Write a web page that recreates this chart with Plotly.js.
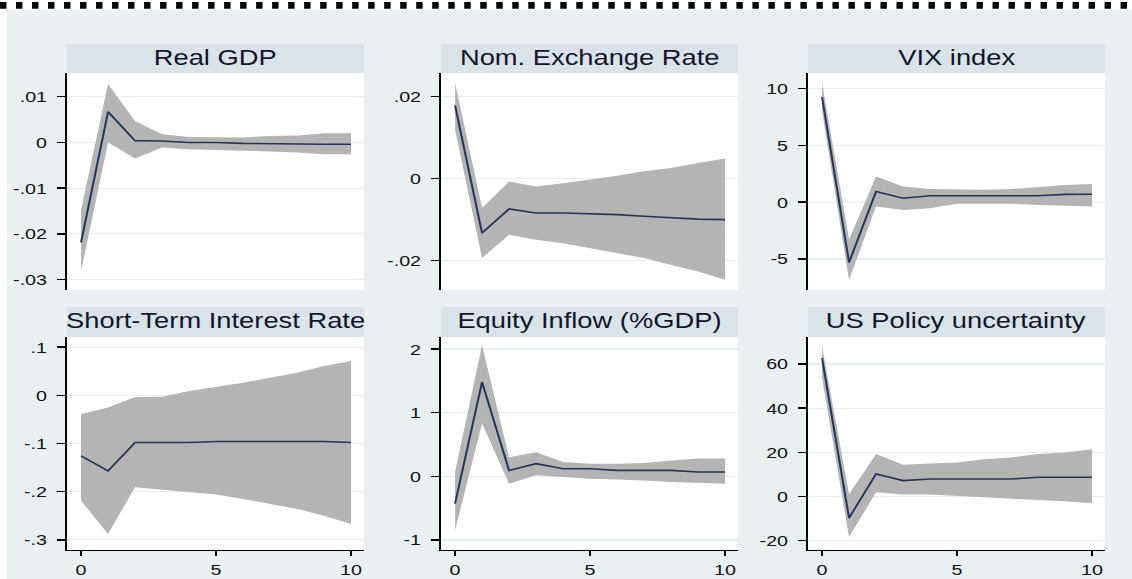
<!DOCTYPE html>
<html>
<head>
<meta charset="utf-8">
<script src="https://cdn.plot.ly/plotly-3.0.1.min.js"></script>
<style>
  html, body { margin: 0; padding: 0; background: #ffffff; overflow: hidden; }
  #wrap { width: 1132px; height: 579px; overflow: hidden; }
  /* the figure is laid out narrow and widened horizontally */
  #chart { transform-origin: 0 0; }
</style>
</head>
<body>
<div id="wrap"><div id="chart"></div></div>
<script>
// Impulse responses over a 10-period horizon with confidence bands
const horizon = [0, 1, 2, 3, 4, 5, 6, 7, 8, 9, 10];

const gdpIrf = [-0.0219, 0.0067, 0.0004, 0.0003, 0.0000, 0.0000, -0.0002, -0.0003, -0.0004, -0.0004, -0.0004];
const gdpLo  = [-0.0282, 0.0000, -0.0035, -0.0011, -0.0015, -0.0016, -0.0018, -0.0020, -0.0022, -0.0026, -0.0026];
const gdpHi  = [-0.0148, 0.0128, 0.0047, 0.0018, 0.0012, 0.0011, 0.0011, 0.0014, 0.0015, 0.0020, 0.0020];

const fxIrf = [0.0179, -0.0133, -0.0074, -0.0084, -0.0084, -0.0086, -0.0088, -0.0092, -0.0096, -0.0099, -0.0100];
const fxLo  = [0.0120, -0.0194, -0.0137, -0.0149, -0.0158, -0.0170, -0.0182, -0.0194, -0.0211, -0.0227, -0.0247];
const fxHi  = [0.0234, -0.0072, -0.0007, -0.0019, -0.0011, -0.0002, 0.0007, 0.0018, 0.0026, 0.0038, 0.0049];

const vixIrf = [9.24, -5.30, 0.94, 0.35, 0.56, 0.56, 0.56, 0.56, 0.56, 0.68, 0.70];
const vixLo  = [8.00, -6.85, -0.38, -0.68, -0.53, -0.15, -0.15, -0.15, -0.24, -0.32, -0.38];
const vixHi  = [10.50, -3.26, 2.26, 1.38, 1.15, 1.10, 1.10, 1.15, 1.32, 1.50, 1.59];

const rateIrf = [-0.1255, -0.1570, -0.0980, -0.0980, -0.0980, -0.0960, -0.0960, -0.0960, -0.0960, -0.0960, -0.0980];
const rateLo  = [-0.2186, -0.2876, -0.1910, -0.1960, -0.2010, -0.2060, -0.2150, -0.2255, -0.2360, -0.2500, -0.2670];
const rateHi  = [-0.0390, -0.0255, -0.0034, -0.0030, 0.0090, 0.0170, 0.0260, 0.0366, 0.0470, 0.0610, 0.0710];

const eqIrf = [-0.43, 1.48, 0.094, 0.20, 0.12, 0.12, 0.094, 0.094, 0.094, 0.068, 0.068];
const eqLo  = [-0.85, 0.83, -0.115, 0.016, -0.010, -0.037, -0.050, -0.063, -0.090, -0.105, -0.115];
const eqHi  = [0.07, 2.06, 0.30, 0.38, 0.225, 0.20, 0.20, 0.21, 0.25, 0.28, 0.28];

const epuIrf = [62.6, -9.7, 10.2, 7.2, 7.9, 7.9, 7.9, 7.9, 8.7, 8.7, 8.7];
const epuLo  = [53.6, -18.3, 1.95, 0.9, 0.9, 0.45, -0.3, -1.05, -1.5, -2.1, -3.0];
const epuHi  = [67.9, 1.2, 19.2, 14.4, 15.0, 15.4, 16.9, 17.7, 19.2, 19.9, 21.4];

const panelTitles = ["Real GDP", "Nom. Exchange Rate", "VIX index",
                     "Short-Term Interest Rate", "Equity Inflow (%GDP)", "US Policy uncertainty"];

const gdpTicks = [-0.03, -0.02, -0.01, 0, 0.01];
const gdpTickText = ["-.03", "-.02", "-.01", "0", ".01"];
const fxTicks = [-0.02, 0, 0.02];
const fxTickText = ["-.02", "0", ".02"];
const vixTicks = [-5, 0, 5, 10];
const vixTickText = ["-5", "0", "5", "10"];
const rateTicks = [-0.3, -0.2, -0.1, 0, 0.1];
const rateTickText = ["-.3", "-.2", "-.1", "0", ".1"];
const eqTicks = [-1, 0, 1, 2];
const eqTickText = ["-1", "0", "1", "2"];
const epuTicks = [-20, 0, 20, 40, 60];
const epuTickText = ["-20", "0", "20", "40", "60"];
const stepTicks = [0, 5, 10];
const stepTickText = ["0", "5", "10"];

// ---- page geometry (pixels of the final 1132 x 579 figure) ----
const FULL_W = 1132, FULL_H = 579;
const STRETCH = 1.2705;                       // horizontal widening of the whole figure
const BASE_W = FULL_W / STRETCH;

const colPx = [[67, 364], [441, 738], [808, 1105]];
const rowPx = [[73, 290], [337, 550]];        // plot regions (top, bottom)
const stripPx = [[44, 73], [307, 337]];       // title bars above each plot

const fx_ = px => px / FULL_W;
const fy_ = py => 1 - py / FULL_H;

const BAND = "#b4b4b4";
const LINE = "#23345f";
const GRID = "#e6eef1";
const BG = "#e9f0f2";
const STRIP = "#d8e4ea";
const FONT = "Liberation Sans, Arial, sans-serif";

const panels = [
  { irf: gdpIrf, lo: gdpLo, hi: gdpHi, range: [-0.0323, 0.0152], tv: gdpTicks, tt: gdpTickText },
  { irf: fxIrf, lo: fxLo, hi: fxHi, range: [-0.0272, 0.0258], tv: fxTicks, tt: fxTickText },
  { irf: vixIrf, lo: vixLo, hi: vixHi, range: [-7.72, 11.35], tv: vixTicks, tt: vixTickText },
  { irf: rateIrf, lo: rateLo, hi: rateHi, range: [-0.321, 0.121], tv: rateTicks, tt: rateTickText },
  { irf: eqIrf, lo: eqLo, hi: eqHi, range: [-1.157, 2.19], tv: eqTicks, tt: eqTickText },
  { irf: epuIrf, lo: epuLo, hi: epuHi, range: [-24.2, 72.2], tv: epuTicks, tt: epuTickText }
];

const traces = [];
const layout = {
  width: BASE_W,
  height: FULL_H,
  margin: { l: 0, r: 0, t: 0, b: 0 },
  paper_bgcolor: BG,
  plot_bgcolor: "#ffffff",
  showlegend: false,
  font: { family: FONT, color: "#111111" },
  shapes: [],
  annotations: []
};

panels.forEach((p, i) => {
  const row = Math.floor(i / 3), col = i % 3;
  const sfx = i === 0 ? "" : String(i + 1);
  const xa = "x" + sfx, ya = "y" + sfx;

  traces.push({
    x: horizon, y: p.lo, xaxis: xa, yaxis: ya, type: "scatter", mode: "lines",
    line: { width: 0, color: BAND }, hoverinfo: "skip"
  });
  traces.push({
    x: horizon, y: p.hi, xaxis: xa, yaxis: ya, type: "scatter", mode: "lines",
    fill: "tonexty", fillcolor: BAND, line: { width: 0, color: BAND }, hoverinfo: "skip"
  });
  traces.push({
    x: horizon, y: p.irf, xaxis: xa, yaxis: ya, type: "scatter", mode: "lines",
    line: { width: 1.6, color: LINE }
  });

  const bottom = row === 1;
  layout["xaxis" + sfx] = {
    domain: [fx_(colPx[col][0]), fx_(colPx[col][1])],
    anchor: ya,
    range: [-0.52, 10.48],
    showgrid: false, zeroline: false,
    showline: bottom, linecolor: "#000000", linewidth: 1.4,
    ticks: bottom ? "outside" : "", ticklen: 5, tickwidth: 1.4, tickcolor: "#000000",
    showticklabels: bottom,
    tickvals: stepTicks, ticktext: stepTickText,
    tickfont: { family: FONT, size: 15.5, color: "#111111" },
    fixedrange: true
  };
  layout["yaxis" + sfx] = {
    domain: [fy_(rowPx[row][1]), fy_(rowPx[row][0])],
    anchor: xa,
    range: p.range,
    showgrid: true, gridcolor: GRID, gridwidth: 1.2,
    zeroline: false,
    showline: true, linecolor: "#000000", linewidth: 1.6,
    ticks: "outside", ticklen: 6, tickwidth: 1.4, tickcolor: "#000000",
    ticklabelstandoff: 5,
    tickvals: p.tv, ticktext: p.tt,
    tickfont: { family: FONT, size: 15.5, color: "#111111" },
    fixedrange: true
  };

  // title bar and its label
  layout.shapes.push({
    type: "rect", xref: "paper", yref: "paper", layer: "below",
    x0: fx_(colPx[col][0]), x1: fx_(colPx[col][1]),
    y0: fy_(stripPx[row][1]), y1: fy_(stripPx[row][0]),
    fillcolor: STRIP, line: { width: 0 }
  });
  layout.annotations.push({
    xref: "paper", yref: "paper",
    x: fx_((colPx[col][0] + colPx[col][1]) / 2),
    y: fy_((stripPx[row][0] + stripPx[row][1]) / 2 - 1),
    xanchor: "center", yanchor: "middle", showarrow: false,
    text: panelTitles[i],
    font: { family: FONT, size: 21.5, color: "#15152a" }
  });
});

// white margin along the top and left edges
layout.shapes.push({
  type: "rect", xref: "paper", yref: "paper", layer: "below",
  x0: 0, x1: 1, y0: fy_(10), y1: 1, fillcolor: "#ffffff", line: { width: 0 }
});
layout.shapes.push({
  type: "rect", xref: "paper", yref: "paper", layer: "below",
  x0: 0, x1: fx_(7), y0: 0, y1: 1, fillcolor: "#ffffff", line: { width: 0 }
});
// dashed rule across the top
layout.shapes.push({
  type: "line", xref: "paper", yref: "paper", layer: "above",
  x0: 0, x1: 1, y0: fy_(5.4), y1: fy_(5.4),
  line: { color: "#000000", width: 6.6, dash: (6.4 / STRETCH).toFixed(2) + "px," + (9.6 / STRETCH).toFixed(2) + "px" }
});

const el = document.getElementById("chart");
el.style.transform = "scaleX(" + STRETCH + ")";
Plotly.newPlot(el, traces, layout, { staticPlot: true, displayModeBar: false });
</script>
</body>
</html>
